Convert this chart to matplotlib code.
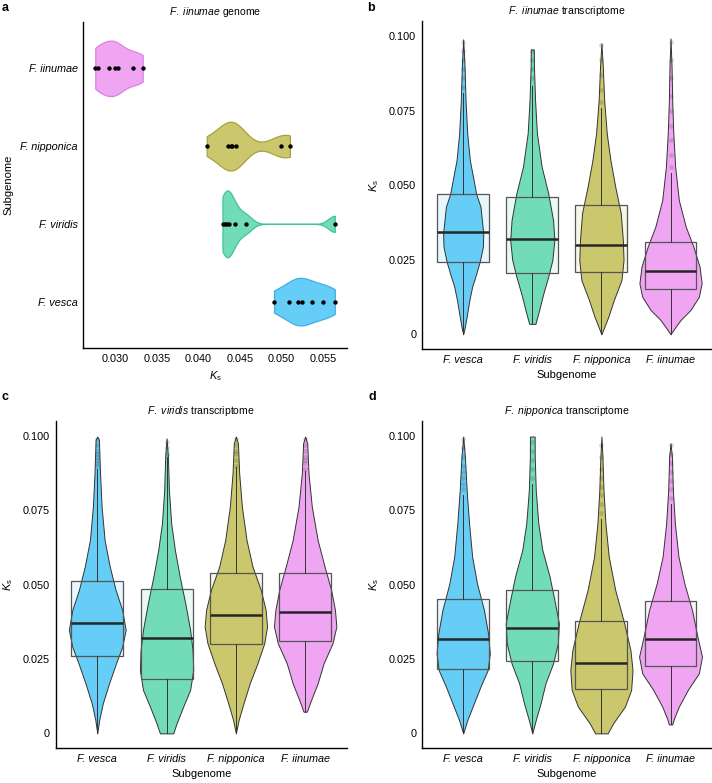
import numpy as np
import matplotlib.pyplot as plt

plt.rcParams['font.family'] = ['Liberation Sans', 'DejaVu Sans']
plt.rcParams['mathtext.fontset'] = 'custom'
plt.rcParams['mathtext.rm'] = 'Liberation Sans'
plt.rcParams['mathtext.it'] = 'Liberation Sans:italic'

subgenomes = ["F. vesca", "F. viridis", "F. nipponica", "F. iinumae"]
fills = ["#66CDF6", "#72DCB9", "#CBC76C", "#EFA5F2"]
edges_a = ["#3FAEE8", "#3FC497", "#A9A23A", "#DE80E2"]

# panel a: Ks of gene pairs in the F. iinumae genome (order as subgenomes)
a_points = [
    [0.0491, 0.0509, 0.0520, 0.0524, 0.0537, 0.0550, 0.0564],
    [0.0429, 0.0432, 0.0435, 0.0437, 0.0444, 0.0457, 0.0564],
    [0.0410, 0.0436, 0.0439, 0.0441, 0.0445, 0.0499, 0.0510],
    [0.0276, 0.0279, 0.0293, 0.0300, 0.0303, 0.0321, 0.0333],
]
# widest half width of each violin in panel a (category units)
a_maxhw = [0.306, 0.43, 0.314, 0.357]

# panels b-d: violin outlines (Ks level, half width) and box stats
b_ks = [
    [0.0989, 0.0897, 0.0785, 0.0674, 0.0584, 0.0506, 0.0469, 0.0428, 0.0339, 0.0294, 0.0244, 0.0204, 0.0160, 0.0115, 0.0059, 0.0020, 0.0],
    [0.0955, 0.0897, 0.0785, 0.0674, 0.0562, 0.0473, 0.0383, 0.0316, 0.0249, 0.0193, 0.0137, 0.0082, 0.0035],
    [0.0975, 0.0897, 0.0785, 0.0674, 0.0584, 0.0495, 0.0406, 0.0316, 0.0249, 0.0182, 0.0115, 0.0059, 0.0],
    [0.0992, 0.0897, 0.0785, 0.0674, 0.0562, 0.0450, 0.0361, 0.0294, 0.0227, 0.0171, 0.0126, 0.0082, 0.0048, 0.0020, 0.0],
]
b_hw = [
    [0.0, 0.02, 0.034, 0.058, 0.096, 0.16, 0.19, 0.25, 0.29, 0.285, 0.24, 0.19, 0.13, 0.09, 0.05, 0.02, 0.0],
    [0.022, 0.024, 0.04, 0.067, 0.135, 0.23, 0.30, 0.32, 0.29, 0.23, 0.16, 0.10, 0.045],
    [0.0, 0.02, 0.04, 0.077, 0.13, 0.20, 0.28, 0.31, 0.32, 0.29, 0.18, 0.10, 0.0],
    [0.0, 0.015, 0.024, 0.04, 0.067, 0.12, 0.22, 0.33, 0.42, 0.45, 0.41, 0.29, 0.145, 0.058, 0.0],
]
b_q1 = [0.0244, 0.0207, 0.0209, 0.0153]
b_med = [0.0344, 0.0318, 0.0299, 0.0213]
b_q3 = [0.0469, 0.0459, 0.0435, 0.0308]
b_lo = [0.0, 0.0035, 0.0, 0.0]
b_hi = [0.0808, 0.0832, 0.0758, 0.0540]
b_out = [
    [0.083, 0.086, 0.089, 0.092, 0.095, 0.098],
    [0.086, 0.089, 0.092, 0.095],
    [0.078, 0.082, 0.087, 0.092, 0.097],
    [0.056, 0.060, 0.065, 0.070, 0.075, 0.080, 0.086, 0.092, 0.098],
]

c_ks = [
    [0.0998, 0.0987, 0.0874, 0.0762, 0.0650, 0.0561, 0.0482, 0.0415, 0.0348, 0.0291, 0.0235, 0.0168, 0.0101, 0.0045, 0.0],
    [0.0992, 0.0930, 0.0818, 0.0706, 0.0617, 0.0527, 0.0437, 0.0348, 0.0280, 0.0213, 0.0146, 0.0090, 0.0034, 0.0],
    [0.0998, 0.0975, 0.0874, 0.0762, 0.0650, 0.0561, 0.0482, 0.0415, 0.0359, 0.0303, 0.0235, 0.0168, 0.0101, 0.0045, 0.0],
    [0.0998, 0.0975, 0.0874, 0.0762, 0.0650, 0.0561, 0.0482, 0.0415, 0.0359, 0.0303, 0.0235, 0.0168, 0.0112, 0.0073],
]
c_hw = [
    [0.0, 0.024, 0.04, 0.063, 0.106, 0.18, 0.265, 0.36, 0.41, 0.36, 0.27, 0.17, 0.08, 0.028, 0.0],
    [0.0, 0.02, 0.034, 0.067, 0.12, 0.19, 0.27, 0.34, 0.375, 0.385, 0.34, 0.24, 0.145, 0.096],
    [0.0, 0.03, 0.048, 0.087, 0.154, 0.24, 0.36, 0.43, 0.45, 0.41, 0.31, 0.20, 0.11, 0.04, 0.0],
    [0.0, 0.03, 0.048, 0.096, 0.18, 0.28, 0.375, 0.43, 0.45, 0.395, 0.265, 0.18, 0.085, 0.024],
]
c_q1 = [0.0261, 0.0183, 0.0300, 0.0312]
c_med = [0.0370, 0.0320, 0.0398, 0.0407]
c_q3 = [0.0512, 0.0485, 0.0538, 0.0540]
c_lo = [0.0, 0.0, 0.0, 0.0073]
c_hi = [0.0888, 0.0930, 0.0895, 0.0882]
c_out = [
    [0.090, 0.091, 0.092, 0.093, 0.094, 0.095, 0.097, 0.099],
    [0.094, 0.096, 0.098],
    [0.090, 0.092, 0.094, 0.095, 0.097, 0.099],
    [0.089, 0.091, 0.092, 0.093, 0.095, 0.097, 0.099],
]

d_ks = [
    [0.0998, 0.0930, 0.0818, 0.0706, 0.0594, 0.0504, 0.0415, 0.0336, 0.0269, 0.0213, 0.0157, 0.0101, 0.0045, 0.0],
    [0.0998, 0.0930, 0.0818, 0.0706, 0.0617, 0.0527, 0.0448, 0.0370, 0.0303, 0.0235, 0.0168, 0.0101, 0.0045, 0.0],
    [0.0998, 0.0930, 0.0818, 0.0706, 0.0594, 0.0482, 0.0370, 0.0280, 0.0213, 0.0146, 0.0090, 0.0034, 0.0],
    [0.0975, 0.0930, 0.0818, 0.0706, 0.0594, 0.0504, 0.0415, 0.0325, 0.0258, 0.0202, 0.0146, 0.0090, 0.0050, 0.0030],
]
d_hw = [
    [0.0, 0.025, 0.05, 0.085, 0.13, 0.20, 0.30, 0.36, 0.385, 0.355, 0.25, 0.155, 0.06, 0.0],
    [0.034, 0.035, 0.05, 0.087, 0.145, 0.25, 0.32, 0.385, 0.37, 0.30, 0.19, 0.12, 0.05, 0.0],
    [0.0, 0.015, 0.03, 0.058, 0.106, 0.20, 0.33, 0.42, 0.45, 0.43, 0.34, 0.17, 0.09],
    [0.0, 0.02, 0.034, 0.063, 0.115, 0.20, 0.31, 0.39, 0.455, 0.41, 0.25, 0.12, 0.05, 0.024],
]
d_q1 = [0.0216, 0.0244, 0.0149, 0.0226]
d_med = [0.0316, 0.0355, 0.0235, 0.0317]
d_q3 = [0.0451, 0.0482, 0.0378, 0.0444]
d_lo = [0.0, 0.0, 0.0, 0.0030]
d_hi = [0.0803, 0.0839, 0.0721, 0.0771]
d_out = [
    [0.082, 0.084, 0.086, 0.088, 0.090, 0.093, 0.096, 0.099],
    [0.086, 0.089, 0.092, 0.095, 0.098],
    [0.074, 0.077, 0.080, 0.083, 0.086, 0.089, 0.093, 0.097],
    [0.079, 0.082, 0.085, 0.088, 0.091, 0.094, 0.097],
]


def kde_nrd0(x, grid):
    # gaussian kde with R's default bandwidth (bw.nrd0)
    x = np.asarray(x)
    n = len(x)
    sd = np.std(x, ddof=1)
    q75, q25 = np.percentile(x, [75, 25])
    h = 0.9 * min(sd, (q75 - q25) / 1.34) * n ** -0.2
    z = (grid[:, None] - x[None, :]) / h
    return np.exp(-0.5 * z ** 2).sum(1) / (n * h * np.sqrt(2 * np.pi))


def style_axes(ax):
    for s in ['top', 'right']:
        ax.spines[s].set_visible(False)
    for s in ['left', 'bottom']:
        ax.spines[s].set_linewidth(1.0)
    ax.tick_params(length=0, pad=4, labelsize=7.8)


def violin_panel(ax, ks, hw, q1, med, q3, lo, hi, out, title):
    for i in range(4):
        pos = i + 1
        ax.fill_between([pos - 0.375, pos + 0.375], q1[i], q3[i], color=fills[i], alpha=0.15, lw=0, zorder=1)
        k = np.array(ks[i])
        w = np.array(hw[i])
        ax.fill_betweenx(k, pos - w, pos + w, facecolor=fills[i], edgecolor='#333333', lw=0.7, zorder=2)
        ax.add_patch(plt.Rectangle((pos - 0.375, q1[i]), 0.75, q3[i] - q1[i], fill=False,
                                   edgecolor='#555555', lw=0.9, zorder=3))
        ax.plot([pos - 0.375, pos + 0.375], [med[i], med[i]], color='#262626', lw=1.8, zorder=4,
                solid_capstyle='butt')
        ax.plot([pos, pos], [q3[i], hi[i]], color='#333333', lw=0.7, zorder=3)
        ax.plot([pos, pos], [lo[i], q1[i]], color='#333333', lw=0.7, zorder=3)
        ax.scatter([pos] * len(out[i]), out[i], s=12, color='#333333', alpha=0.18, lw=0, zorder=3)
    ax.set_xlim(0.4, 4.6)
    ax.set_ylim(-0.005, 0.105)
    ax.set_xticks([1, 2, 3, 4])
    ax.set_xticklabels(subgenomes, fontstyle='italic')
    ax.set_yticks([0, 0.025, 0.05, 0.075, 0.1])
    ax.set_yticklabels(['0', '0.025', '0.050', '0.075', '0.100'])
    ax.set_xlabel('Subgenome', fontsize=8, labelpad=4)
    ax.set_ylabel(r'$K_\mathrm{s}$', fontsize=8, labelpad=6)
    ax.set_title(title, fontsize=7.5, pad=5)
    style_axes(ax)


fig = plt.figure(figsize=(7.12, 7.83), dpi=100)
ax_a = fig.add_axes([0.117, 0.5552, 0.370, 0.4171])
ax_b = fig.add_axes([0.5923, 0.554, 0.4077, 0.419])
ax_c = fig.add_axes([0.0782, 0.0444, 0.4088, 0.4178])
ax_d = fig.add_axes([0.5923, 0.0444, 0.4077, 0.4178])

# panel a
for i, pts in enumerate(a_points):
    g = np.linspace(min(pts), max(pts), 512)
    dens = kde_nrd0(pts, g)
    w = a_maxhw[i] * dens / dens.max()
    ax_a.fill_between(g, i - w, i + w, facecolor=fills[i], edgecolor=edges_a[i], lw=0.9, zorder=2)
    ax_a.scatter(pts, [i] * len(pts), s=10, color='black', zorder=3, lw=0)
ax_a.set_xlim(0.02616, 0.05784)
ax_a.set_ylim(-0.6, 3.6)
ax_a.set_xticks([0.030, 0.035, 0.040, 0.045, 0.050, 0.055])
ax_a.set_xticklabels(['0.030', '0.035', '0.040', '0.045', '0.050', '0.055'])
ax_a.set_yticks([0, 1, 2, 3])
ax_a.set_yticklabels(subgenomes, fontstyle='italic')
ax_a.set_xlabel(r'$K_\mathrm{s}$', fontsize=8, labelpad=4)
ax_a.set_ylabel('Subgenome', fontsize=8, labelpad=5)
ax_a.set_title(r'$\mathit{F.\ iinumae}$ genome', fontsize=7.5, pad=5)
style_axes(ax_a)

violin_panel(ax_b, b_ks, b_hw, b_q1, b_med, b_q3, b_lo, b_hi, b_out, r'$\mathit{F.\ iinumae}$ transcriptome')
violin_panel(ax_c, c_ks, c_hw, c_q1, c_med, c_q3, c_lo, c_hi, c_out, r'$\mathit{F.\ viridis}$ transcriptome')
violin_panel(ax_d, d_ks, d_hw, d_q1, d_med, d_q3, d_lo, d_hi, d_out, r'$\mathit{F.\ nipponica}$ transcriptome')

for lab, x, y in [('a', 0.002, 0.998), ('b', 0.516, 0.998), ('c', 0.002, 0.5), ('d', 0.518, 0.5)]:
    fig.text(x, y, lab, fontsize=9, fontweight='bold', va='top', ha='left')

fig.savefig('out.png', dpi=100)
